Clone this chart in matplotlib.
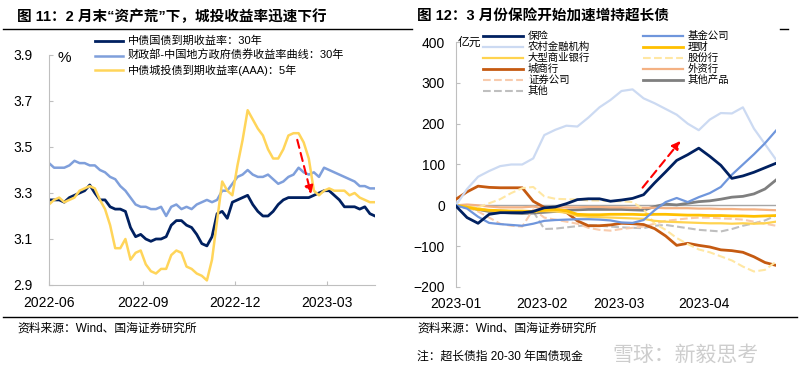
import matplotlib
matplotlib.use('Agg')
import matplotlib.pyplot as plt
import pandas as pd
from matplotlib.lines import Line2D

plt.rcParams['font.family'] = ['Liberation Sans', 'Noto Sans CJK SC']

# ---- 图11 数据 (每5天取一点, 自 2022-06-01 起) ----
left_ticks = ['2022-06', '2022-09', '2022-12', '2023-03']
gz30 = [3.27, 3.27, 3.27, 3.26, 3.28, 3.29, 3.30, 3.31, 3.335, 3.30,
        3.27, 3.27, 3.24, 3.23, 3.23, 3.22, 3.15, 3.11, 3.12, 3.10,
        3.09, 3.10, 3.10, 3.11, 3.16, 3.18, 3.18, 3.16, 3.15, 3.12,
        3.08, 3.07, 3.11, 3.21, 3.22, 3.19, 3.26, 3.27, 3.28, 3.29,
        3.25, 3.22, 3.20, 3.20, 3.22, 3.25, 3.27, 3.28, 3.28, 3.28,
        3.28, 3.28, 3.29, 3.30, 3.31, 3.31, 3.29, 3.27, 3.24, 3.24,
        3.24, 3.23, 3.24, 3.21, 3.20]
dfz30 = [3.43, 3.41, 3.41, 3.41, 3.42, 3.44, 3.43, 3.43, 3.42, 3.42,
         3.40, 3.39, 3.37, 3.36, 3.33, 3.31, 3.28, 3.25, 3.24, 3.24,
         3.23, 3.23, 3.24, 3.20, 3.24, 3.25, 3.23, 3.24, 3.23, 3.25,
         3.26, 3.27, 3.26, 3.27, 3.31, 3.31, 3.34, 3.37, 3.38, 3.40,
         3.38, 3.37, 3.37, 3.38, 3.36, 3.34, 3.35, 3.37, 3.38, 3.41,
         3.39, 3.38, 3.39, 3.37, 3.41, 3.40, 3.39, 3.38, 3.37, 3.36,
         3.35, 3.33, 3.33, 3.32, 3.32]
ct5 = [3.25, 3.27, 3.28, 3.26, 3.27, 3.28, 3.31, 3.32, 3.33, 3.32,
       3.27, 3.23, 3.16, 3.06, 3.06, 3.10, 3.01, 3.04, 3.05, 2.99,
       2.96, 2.95, 2.97, 2.97, 3.03, 3.05, 3.04, 2.98, 2.97, 2.95,
       2.94, 2.92, 3.01, 3.18, 3.35, 3.31, 3.29, 3.42, 3.53, 3.66,
       3.62, 3.58, 3.55, 3.49, 3.45, 3.45, 3.49, 3.55, 3.56, 3.56,
       3.52, 3.45, 3.31, 3.29, 3.31, 3.32, 3.31, 3.31, 3.31, 3.29,
       3.30, 3.28, 3.27, 3.26, 3.26]
left_dates = pd.date_range('2022-06-01', periods=len(gz30), freq='5D')

# ---- 图12 数据 (每4天取一点, 自 2023-01-01 起, 亿元) ----
right_ticks = ['2023-01', '2023-02', '2023-03', '2023-04']
baoxian = [-2, -30, -44, -22, -18, -18, -18, -15, -6, -4, 4, 14, 16, 16, 10,
           13, 17, 26, 55, 82, 110, 124, 140, 120, 98, 66, 72, 81, 92, 103]
jijin = [0, -8, -28, -43, -46, -48, -50, -45, -38, -36, -35, -34, -34, -35, -37,
         -42, -43, -36, -12, 8, 18, 8, 20, 30, 45, 75, 100, 125, 152, 183]
nongcun = [0, 40, 70, 84, 96, 100, 100, 115, 172, 185, 195, 193, 215, 240, 258,
           280, 284, 262, 250, 236, 222, 200, 184, 210, 226, 225, 240, 188, 150, 112]
licai = [0, -5, -10, -12, -13, -14, -14, -15, -12, -10, -13, -22, -23, -23, -22,
         -22, -22, -23, -22, -22, -23, -24, -24, -25, -25, -26, -26, -27, -26, -25]
dahang = [0, -3, -8, -12, -14, -15, -15, -15, -14, -15, -18, -26, -28, -29, -30,
          -31, -32, -33, -38, -40, -41, -42, -43, -44, -44, -45, -44, -45, -44, -40]
gufen = [0, -3, -5, 5, 15, 30, 42, 45, 22, 16, 15, 14, 12, 12, 10,
         10, 8, -10, -45, -60, -80, -95, -108, -115, -125, -135, -150, -162, -158, -138]
chengshang = [15, 33, 47, 44, 43, 43, 43, 10, -5, -12, -17, -38, -50, -50, -48,
              -44, -45, -47, -57, -75, -98, -93, -98, -102, -109, -111, -115, -126, -140, -147]
waizi = [0, 2, 0, -3, -5, -5, -5, -3, -8, -6, -5, -5, -4, -4, -5,
         -5, -6, -6, -6, -7, -7, -7, -8, -8, -9, -9, -10, -10, -11, -12]
zhengquan = [0, -5, -15, -30, -45, -50, -52, -10, -30, -35, -40, -45, -55, -60, -62,
             -58, -55, -52, -45, -38, -35, -32, -30, -30, -32, -33, -35, -40, -45, -50]
qitachanpin = [0, -5, -10, -15, -17, -19, -20, -19, -17, -15, -12, -11, -10, -10, -10,
               -10, -11, -12, -3, 3, 1, 5, 9, 11, 15, 20, 22, 28, 40, 62]
qita = [0, -3, -8, -12, -13, -14, -15, -15, -58, -57, -54, -51, -48, -50, -52,
        -54, -55, -56, -50, -48, -52, -56, -60, -62, -64, -58, -50, -44, -37, -25]
right_dates = pd.date_range('2023-01-01', periods=len(baoxian), freq='4D')

W, H = 800, 375
fig = plt.figure(figsize=(8, 3.75), dpi=100)
axis_c = '#BFBFBF'


def fx(px):
    return px / W


def fy(py):
    return 1 - py / H


def style_axis(ax):
    for s in ['top', 'right']:
        ax.spines[s].set_visible(False)
    for s in ['left', 'bottom']:
        ax.spines[s].set_color(axis_c)
    ax.tick_params(direction='in', length=3, color=axis_c, labelsize=10, labelcolor='black')


# ---------- 左图 ----------
ax1 = fig.add_axes([fx(49), fy(285), fx(326), 230 / H])
left_series = [
    ('中债国债到期收益率：30年', gz30, '#002060', 2.0),
    ('财政部-中国地方政府债券收益率曲线：30年', dfz30, '#7F9FDB', 1.8),
    ('中债城投债到期收益率(AAA)：5年', ct5, '#FFD55A', 1.8),
]
for name, vals, c, lw in left_series:
    ax1.plot(left_dates, vals, color=c, lw=lw)
style_axis(ax1)
ax1.set_ylim(2.9, 3.9)
ax1.set_yticks([2.9, 3.1, 3.3, 3.5, 3.7, 3.9])
ax1.set_yticklabels(['2.9', '3.1', '3.3', '3.5', '3.7', '3.9'])
ax1.set_xlim(left_dates[0], left_dates[-1])
ax1.set_xticks(pd.to_datetime([t + '-01' for t in left_ticks]))
ax1.set_xticklabels(left_ticks)
ax1.tick_params(axis='x', pad=8)
ax1.tick_params(axis='y', pad=12)
ax1.annotate('', xy=(pd.Timestamp('2023-02-14'), 3.283), xytext=(pd.Timestamp('2023-01-30'), 3.543),
             arrowprops=dict(arrowstyle='-|>', color='red', lw=1.5, linestyle=(0, (4, 2.5)),
                             mutation_scale=12))
fig.text(fx(58), fy(58), '%', fontsize=11, va='center')

for i, (name, vals, c, lw) in enumerate(left_series):
    y = fy(41 + 14.5 * i)
    fig.add_artist(Line2D([fx(95), fx(123)], [y, y], color=c, lw=lw))
    fig.text(fx(128), y, name, fontsize=8, va='center')

# ---------- 右图 ----------
ax2 = fig.add_axes([fx(456), fy(287), fx(320), 245 / H])
right_series = [
    ('保险', baoxian, '#002060', 2.0, '-'),
    ('基金公司', jijin, '#6F96DC', 1.6, '-'),
    ('农村金融机构', nongcun, '#CCDAF2', 1.6, '-'),
    ('理财', licai, '#FFC000', 2.0, '-'),
    ('大型商业银行', dahang, '#FFD34F', 1.6, '-'),
    ('股份行', gufen, '#FFE7A3', 1.5, '--'),
    ('城商行', chengshang, '#C55A11', 2.0, '-'),
    ('外资行', waizi, '#F4B183', 1.6, '-'),
    ('证券公司', zhengquan, '#F8CBAD', 1.5, '--'),
    ('其他产品', qitachanpin, '#7F7F7F', 2.0, '-'),
    ('其他', qita, '#BFBFBF', 1.5, '--'),
]
ax2.axhline(0, color='#A6A6A6', lw=1, zorder=1)
for k, (name, vals, c, lw, ls) in enumerate(right_series):
    z = 10 if name == '保险' else 3 + (len(right_series) - k) * 0.1
    ax2.plot(right_dates, vals, color=c, lw=lw, ls=ls, zorder=z)
style_axis(ax2)
ax2.spines['bottom'].set_visible(False)
ax2.set_ylim(-200, 400)
ax2.set_yticks(range(-200, 401, 100))
ax2.set_xlim(right_dates[0], right_dates[-1])
ax2.set_xticks(pd.to_datetime([t + '-01' for t in right_ticks]))
ax2.set_xticklabels(right_ticks)
ax2.tick_params(axis='x', length=0, pad=7)
ax2.tick_params(axis='y', pad=8)
ax2.annotate('', xy=(pd.Timestamp('2023-03-24'), 163), xytext=(pd.Timestamp('2023-03-09'), 38),
             arrowprops=dict(arrowstyle='-|>', color='red', lw=1.5, linestyle=(0, (4, 2.5)),
                             mutation_scale=12))
fig.text(fx(458), fy(43), '亿元', fontsize=8.5, va='center')

for k, (name, vals, c, lw, ls) in enumerate(right_series):
    col, row = k % 2, k // 2
    if k == 10:
        col, row = 0, 5
    x0 = 483 if col == 0 else 643
    y = fy(36 + 11 * row)
    fig.add_artist(Line2D([fx(x0), fx(x0 + 40)], [y, y], color=c, lw=lw, ls=ls))
    fig.text(fx(x0 + 45), y, name, fontsize=7.5, va='center')

# ---------- 标题与注释 ----------
fig.text(fx(17), fy(17), '图 11：2 月末“资产荒”下，城投收益率迅速下行', fontsize=10.5,
         fontweight='bold', va='center')
fig.text(fx(417), fy(17), '图 12：3 月份保险开始加速增持超长债', fontsize=10.5,
         fontweight='bold', va='center')
fig.add_artist(Line2D([fx(3), fx(412)], [fy(29), fy(29)], color='black', lw=1))
fig.add_artist(Line2D([fx(780), fx(788)], [fy(28.5), fy(28.5)], color='black', lw=1))
fig.add_artist(Line2D([fx(3), fx(797)], [fy(317), fy(317)], color='black', lw=1))
fig.text(fx(17), fy(329), '资料来源：Wind、国海证券研究所', fontsize=8.5, va='center')
fig.text(fx(417), fy(329), '资料来源：Wind、国海证券研究所', fontsize=8.5, va='center')
fig.text(fx(417), fy(357), '注：超长债指 20-30 年国债现金', fontsize=8.5, va='center')
fig.text(fx(612), fy(355), '雪球：新毅思考', fontsize=15, va='center', color='#C8C8C8', alpha=0.9)

fig.savefig('out.png', dpi=100)
